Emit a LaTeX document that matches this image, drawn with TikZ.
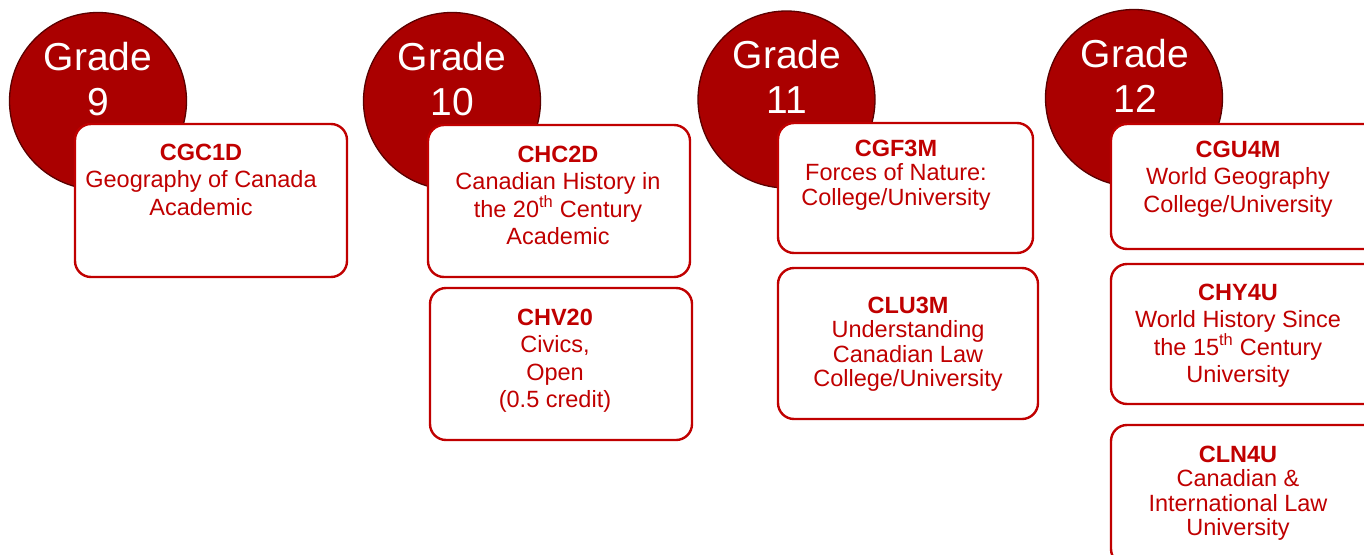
\documentclass[tikz,border=0pt]{standalone}
\usepackage{fontspec}
\setmainfont{Liberation Sans}
\definecolor{circfill}{HTML}{AA0000}
\definecolor{circline}{HTML}{5A0000}
\definecolor{boxred}{HTML}{C00000}
\newcommand{\stack}[1]{\vtop{\lineskiplimit=-100pt\lineskip=0pt\halign{\hfil##\hfil\cr#1\crcr}}}
\tikzset{
  grade/.style={circle, fill=circfill, draw=circline, line width=1.3pt, minimum size=177pt, inner sep=0pt},
  gradetext/.style={text=white, anchor=base, inner sep=0pt, font=\fontsize{39}{45}\selectfont},
  course/.style={draw=boxred, line width=2.4pt, fill=white, rounded corners=16pt, inner sep=0pt},
  coursetext/.style={text=boxred, anchor=base, inner sep=0pt, font=\fontsize{23.5}{27.5}\selectfont},
  coursetight/.style={coursetext, font=\fontsize{23.5}{24.5}\selectfont},
}
\begin{document}
\begin{tikzpicture}[x=1pt,y=-1pt]
\useasboundingbox (0,0) rectangle (1364,554);
% circles
\node[grade] (c9)  at (98,101)  {};
\node[grade] (c10) at (452,101) {};
\node[grade] (c11) at (786.5,99.5) {};
\node[grade] (c12) at (1134,98) {};
\node[gradetext] (g9)  at (98,70)  {\stack{Grade\cr 9}};
\node[gradetext] (g10) at (452,70) {\stack{Grade\cr 10}};
\node[gradetext] (g11) at (787,68) {\stack{Grade\cr 11}};
\node[gradetext] (g12) at (1135,67) {\stack{Grade\cr 12}};
% boxes
\node[course, minimum width=272pt, minimum height=153pt] (b9)   at (211,200.5) {};
\node[course, minimum width=262pt, minimum height=152pt] (b10a) at (559,201)   {};
\node[course, minimum width=262pt, minimum height=152pt] (b10b) at (561,364)   {};
\node[course, minimum width=255pt, minimum height=130pt] (b11a) at (905.5,188) {};
\node[course, minimum width=260pt, minimum height=151pt] (b11b) at (908,343.5) {};
\node[course, minimum width=275pt, minimum height=125pt] (b12a) at (1248.5,186.5) {};
\node[course, minimum width=275pt, minimum height=140pt] (b12b) at (1248.5,334)   {};
\node[course, minimum width=275pt, minimum height=140pt] (b12c) at (1248.5,495)   {};
% texts
\node[coursetext] (t9) at (201,160) {\stack{\textbf{CGC1D}\cr Geography of Canada\cr Academic}};
\node[coursetext] (t10a) at (558,162) {\stack{\textbf{CHC2D}\cr Canadian History in\cr the 20\textsuperscript{th} Century\cr Academic}};
\node[coursetext] (t10b) at (555,325) {\stack{\textbf{CHV20}\cr Civics,\cr Open\cr (0.5 credit)}};
\node[coursetight] (t11a) at (896,156) {\stack{\textbf{CGF3M}\cr Forces of Nature:\cr College/University}};
\node[coursetight] (t11b) at (908,313) {\stack{\textbf{CLU3M}\cr Understanding\cr Canadian Law\cr College/University}};
\node[coursetext] (t12a) at (1238,157) {\stack{\textbf{CGU4M}\cr World Geography\cr College/University}};
\node[coursetext] (t12b) at (1238,300) {\stack{\textbf{CHY4U}\cr World History Since\cr the 15\textsuperscript{th} Century\cr University}};
\node[coursetight] (t12c) at (1238,462) {\stack{\textbf{CLN4U}\cr Canadian \&\cr International Law\cr University}};
\end{tikzpicture}
\end{document}
